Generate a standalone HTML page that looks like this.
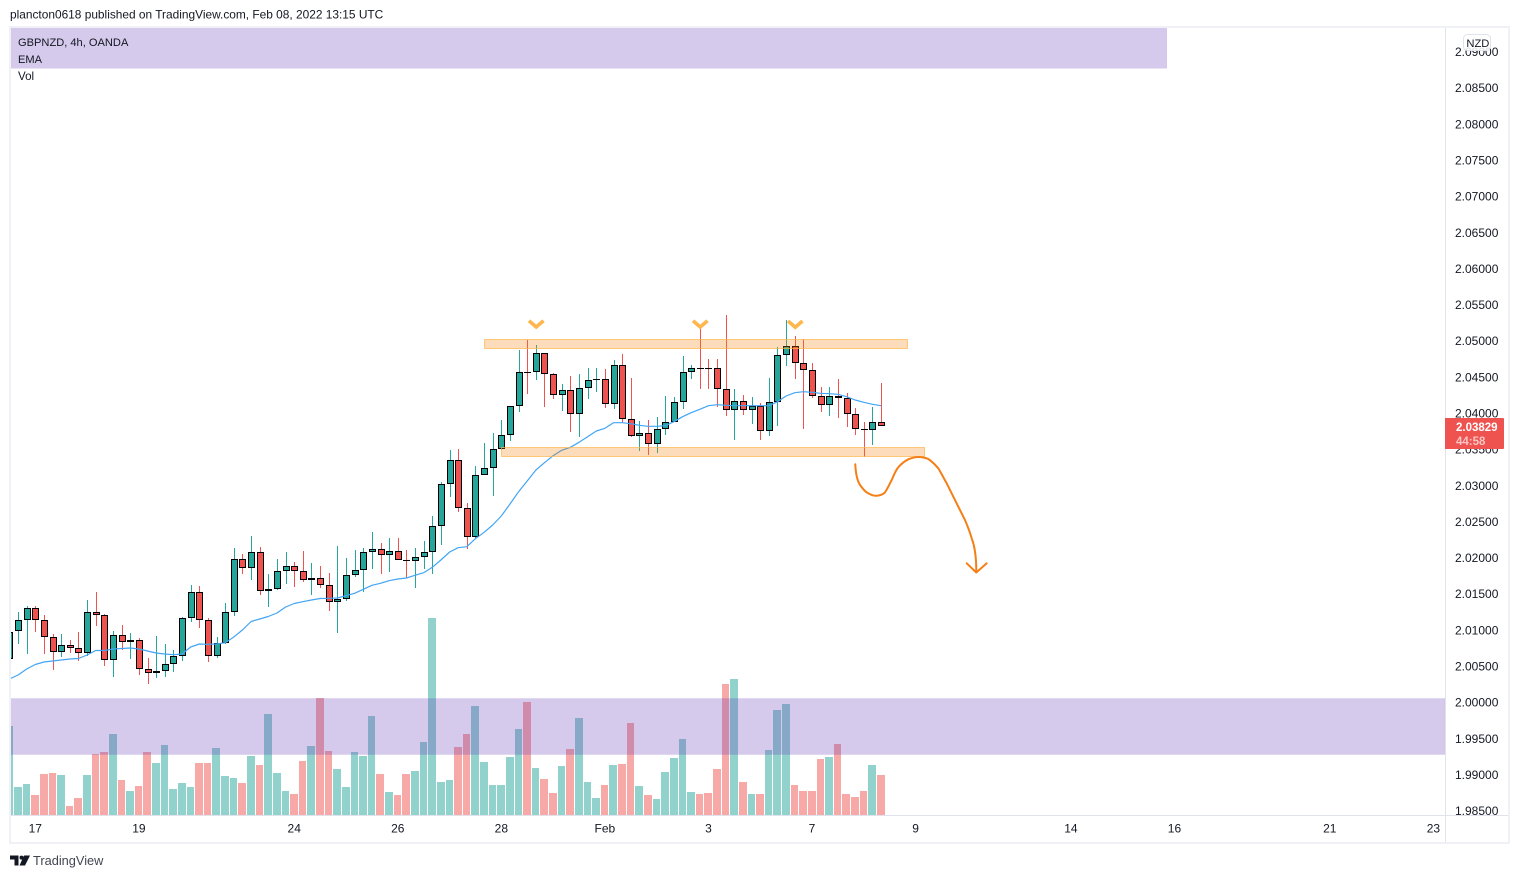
<!DOCTYPE html>
<html lang="en">
<head>
<meta charset="utf-8">
<title>GBPNZD 4h chart</title>
<style>
html,body{margin:0;padding:0;background:#fff;width:1519px;height:878px;overflow:hidden}
svg{display:block;font-family:"Liberation Sans",sans-serif}
text{fill:#131722;font-size:12px}
</style>
</head>
<body>
<svg id="chart" width="1519" height="878" viewBox="0 0 1519 878" xmlns="http://www.w3.org/2000/svg">
  <defs><clipPath id="plot-clip"><rect x="10" y="27" width="1435" height="788"/></clipPath></defs>
  <text x="10" y="18.5" style="font-size:11.9px">plancton0618 published on TradingView.com, Feb 08, 2022 13:15 UTC</text>
  <g id="volume-layer" clip-path="url(#plot-clip)"></g>
  <g id="candle-layer" clip-path="url(#plot-clip)"></g>
  <path id="ema-line" fill="none" stroke="#42a5f5" stroke-width="1.2" stroke-linejoin="round" clip-path="url(#plot-clip)"/>
  <rect x="10" y="698.5" width="1435" height="56" fill="rgba(103,58,183,0.27)" stroke="rgba(103,58,183,0.08)" stroke-width="1"/>
  <rect x="11" y="27.5" width="1156" height="41" fill="rgba(103,58,183,0.27)"/>
  <text x="18" y="46" style="font-size:11.1px">GBPNZD, 4h, OANDA</text>
  <text x="18" y="63" style="font-size:11.1px">EMA</text>
  <text x="18" y="80" style="font-size:11.6px">Vol</text>
  <rect x="484.5" y="339.5" width="423" height="9" fill="rgba(245,124,0,0.27)" stroke="rgba(255,183,77,0.7)"/>
  <rect x="501.5" y="447.5" width="423" height="9" fill="rgba(245,124,0,0.27)" stroke="rgba(255,183,77,0.7)"/>
  <polyline points="529,320.8 536.2,327 543.5,320.8" fill="none" stroke="#ffb74d" stroke-width="3.6"/>
  <polyline points="693,320.8 700.2,327 707.5,320.8" fill="none" stroke="#ffb74d" stroke-width="3.6"/>
  <polyline points="788,321 795.3,327.2 802.5,321" fill="none" stroke="#ffb74d" stroke-width="3.6"/>
  <path d="M855.3 464.3 C855.6 472 857 480 860 485 C863 489 865 491.5 866.7 492.3 C870 494.5 874 496 876.7 495.7 C880 495.5 883 494.5 885 492.3 C888 488 890 483 891.7 480 C893.5 476 895.5 470.5 898.3 467.3 C901 464 905 461 908.3 459.3 C911.5 458 915 457 918.3 457 C922 457 925.5 457.8 928.3 459 C932 461.5 935 464.5 938.3 468.3 C941 473 944 478.5 946.7 483.3 L958.3 506.7 L965 520 C967.5 526 970 532 971.7 538.3 C973.5 543 974.5 547.5 975 551.7 C976 558 976.3 565 976.3 572" fill="none" stroke="#f57f17" stroke-width="2" stroke-linecap="round"/>
  <polyline points="966.7,563.3 976.3,572.5 986.7,563.3" fill="none" stroke="#f57f17" stroke-width="2" stroke-linecap="round" stroke-linejoin="round"/>
  <line x1="10" y1="815.5" x2="1509" y2="815.5" stroke="#e0e3eb"/>
  <line x1="1445.5" y1="27" x2="1445.5" y2="843" stroke="#e0e3eb"/>
  <g id="price-axis"></g>
  <g id="time-axis"></g>
  <rect x="10" y="27" width="1499" height="816" fill="none" stroke="#eff1f7" stroke-width="2"/>
  <rect x="1463.5" y="34.5" width="27" height="16" rx="4" fill="rgba(255,255,255,0.85)" stroke="#e0e3eb"/>
  <text x="1466.4" y="47" style="font-size:11.2px">NZD</text>
  <path d="M1445 418 H1503 a1 1 0 0 1 1 1 V448 a1 1 0 0 1 -1 1 H1445 Z" fill="#ef5350"/>
  <text id="last-price-label" x="1456" y="431" style="fill:#fff;font-weight:bold;font-size:11.5px">2.03829</text>
  <text x="1456" y="445" style="fill:#fbc4c3;font-weight:bold;font-size:11.5px">44:58</text>
  <g>
    <path d="M10 855.5 H18.5 V865.5 H14.5 V859.5 H10 Z M24 855.5 H30 L25 865.5 H19.5 Z" fill="#131722"/>
    <circle cx="21.5" cy="857.6" r="2" fill="#131722"/>
    <text x="33" y="865" style="font-size:12.8px;fill:#434651">TradingView</text>
  </g>
</svg>
<script>
const opens = [2.00597,2.00984,2.01136,2.01302,2.01136,2.00901,2.00693,2.00790,2.00749,2.00680,
2.01247,2.01205,2.00583,2.00929,2.00832,2.00859,2.00458,2.00403,2.00431,2.00527,
2.00638,2.01164,2.01524,2.01136,2.00638,2.00818,2.01247,2.01980,2.01856,2.02077,
2.01537,2.01565,2.01814,2.01883,2.01814,2.01690,2.01717,2.01620,2.01385,2.01427,
2.01759,2.01828,2.02077,2.02118,2.02035,2.02091,2.01966,2.01952,2.02008,2.02077,
2.02437,2.03018,2.03350,2.02686,2.02284,2.03142,2.03239,2.03502,2.03696,2.04097,
2.04567,2.04567,2.04830,2.04540,2.04249,2.04318,2.03986,2.04346,2.04457,2.04470,
2.04125,2.04664,2.03917,2.03682,2.03723,2.03571,2.03779,2.03875,2.04152,2.04567,
2.04623,2.04623,2.04623,2.04332,2.04042,2.04166,2.04042,2.04097,2.03751,2.04152,
2.04802,2.04927,2.04692,2.04595,2.04235,2.04111,2.04235,2.04208,2.03986,2.03779,
2.03765,2.03875];
const highs = [2.01071,2.01247,2.01334,2.01334,2.01205,2.00942,2.00942,2.00859,2.00974,2.01417,
2.01528,2.01223,2.00984,2.01071,2.00960,2.00891,2.00615,2.00919,2.00808,2.00725,
2.01182,2.01625,2.01611,2.01168,2.00905,2.01375,2.02136,2.02053,2.02302,2.02150,
2.01777,2.01984,2.02081,2.01943,2.02095,2.01929,2.01887,2.01791,2.02164,2.01998,
2.02109,2.02136,2.02358,2.02206,2.02275,2.02275,2.02109,2.02136,2.02233,2.02579,
2.03050,2.03492,2.03506,2.02759,2.03271,2.03589,2.03727,2.03907,2.04101,2.04876,
2.05014,2.04945,2.04834,2.04558,2.04405,2.04516,2.04544,2.04627,2.04627,2.04613,
2.04737,2.04820,2.04488,2.03893,2.03907,2.03949,2.04239,2.04226,2.04793,2.04668,
2.05222,2.04751,2.04751,2.05360,2.04336,2.04253,2.04226,2.04143,2.04488,2.04917,
2.05291,2.05069,2.05028,2.04696,2.04364,2.04364,2.04475,2.04281,2.04073,2.03880,
2.04087,2.04419];
const lows = [2.00559,2.00808,2.00670,2.00974,2.00670,2.00449,2.00628,2.00684,2.00573,2.00642,
2.01057,2.00504,2.00352,2.00725,2.00601,2.00379,2.00255,2.00338,2.00352,2.00421,
2.00573,2.01113,2.01030,2.00559,2.00615,2.00808,2.01196,2.01777,2.01694,2.01486,
2.01320,2.01555,2.01638,2.01597,2.01666,2.01486,2.01583,2.01265,2.00960,2.01403,
2.01735,2.01528,2.01846,2.01777,2.01804,2.01966,2.01721,2.01583,2.01846,2.01777,
2.02178,2.02842,2.02634,2.02123,2.02275,2.03142,2.02856,2.03492,2.03617,2.04018,
2.04267,2.04461,2.04087,2.04198,2.04032,2.03741,2.03672,2.04198,2.04295,2.04073,
2.04059,2.03866,2.03672,2.03478,2.03423,2.03451,2.03700,2.03875,2.04059,2.04475,
2.04336,2.04336,2.04087,2.03963,2.03631,2.03976,2.03852,2.03631,2.03686,2.03824,
2.04654,2.04475,2.03783,2.04212,2.04018,2.03963,2.03935,2.03810,2.03700,2.03395,
2.03561,2.03824];
const closes = [2.00978,2.01136,2.01302,2.01136,2.00901,2.00693,2.00790,2.00749,2.00680,2.01247,
2.01205,2.00583,2.00929,2.00832,2.00859,2.00458,2.00403,2.00431,2.00527,2.00638,
2.01164,2.01524,2.01136,2.00638,2.00818,2.01247,2.01980,2.01856,2.02077,2.01537,
2.01565,2.01814,2.01883,2.01814,2.01690,2.01717,2.01620,2.01385,2.01427,2.01759,
2.01828,2.02077,2.02118,2.02035,2.02091,2.01966,2.01952,2.02008,2.02077,2.02437,
2.03018,2.03350,2.02686,2.02284,2.03142,2.03239,2.03502,2.03696,2.04097,2.04567,
2.04560,2.04830,2.04540,2.04249,2.04318,2.03986,2.04346,2.04457,2.04470,2.04125,
2.04664,2.03917,2.03682,2.03723,2.03571,2.03779,2.03875,2.04152,2.04567,2.04623,
2.04615,2.04615,2.04332,2.04042,2.04166,2.04042,2.04097,2.03751,2.04152,2.04802,
2.04927,2.04692,2.04595,2.04235,2.04111,2.04235,2.04208,2.03986,2.03779,2.03765,
2.03875,2.03829];
const emaValues = [2.00324,2.00379,2.00462,2.00525,2.00559,2.00573,2.00587,2.00601,2.00608,2.00656,
2.00718,2.00718,2.00739,2.00746,2.00753,2.00739,2.00711,2.00684,2.00670,2.00660,
2.00670,2.00767,2.00808,2.00804,2.00808,2.00826,2.00905,2.01002,2.01120,2.01154,
2.01189,2.01237,2.01320,2.01369,2.01394,2.01417,2.01438,2.01441,2.01445,2.01477,
2.01510,2.01565,2.01620,2.01648,2.01684,2.01708,2.01721,2.01759,2.01795,2.01869,
2.01970,2.02081,2.02141,2.02154,2.02265,2.02354,2.02455,2.02579,2.02745,2.02915,
2.03063,2.03216,2.03317,2.03413,2.03488,2.03530,2.03599,2.03676,2.03755,2.03792,
2.03870,2.03870,2.03856,2.03834,2.03820,2.03820,2.03828,2.03884,2.03953,2.04008,
2.04055,2.04105,2.04119,2.04111,2.04105,2.04105,2.04105,2.04105,2.04105,2.04160,
2.04239,2.04285,2.04299,2.04291,2.04277,2.04271,2.04263,2.04230,2.04184,2.04152,
2.04125,2.04105];
const volumes = [890,280,310,200,410,420,400,90,170,400,
610,630,810,350,240,290,630,520,700,260,
320,280,520,520,670,390,370,320,590,500,
1010,420,240,210,540,690,1170,640,460,280,
630,590,990,410,230,200,410,440,730,1970,
330,350,680,810,1090,530,300,300,580,860,
1130,470,360,220,490,660,970,330,170,300,
500,510,920,290,200,160,430,570,760,230,
210,220,460,1310,1360,330,210,210,650,1050,
1110,300,240,240,560,580,710,210,180,240,
500,400];
const priceTicks = [2.09,2.085,2.08,2.075,2.07,2.065,2.06,2.055,2.05,2.045,2.04,2.035,2.03,2.025,2.02,2.015,2.01,2.005,2.0,1.995,1.99,1.985];
const dateLabels = ["17","19","24","26","28","Feb","3","7","9","14","16","21","23"];
const dateBarIndex = [3,15,33,45,57,69,81,93,105,123,135,153,165];

const NS = "http://www.w3.org/2000/svg";
function xAt(i){ return 9.42 + 8.63 * i; }
function yAt(p){ return 413.3 + (2.04 - p) * 7228; }
function volY(v){ return 815 - v * 0.1; }
function make(tag, parent, attrs){
  const el = document.createElementNS(NS, tag);
  for (const k in attrs) el.setAttribute(k, attrs[k]);
  parent.appendChild(el);
  return el;
}

const volLayer = document.getElementById("volume-layer");
const candleLayer = document.getElementById("candle-layer");
const UP = "#26a69a", DOWN = "#ef5350";

volumes.forEach(function(v, i){
  const left = Math.round(xAt(i) - 4.05);
  const right = Math.round(xAt(i + 1) - 4.05) - 1;
  const top = volY(v);
  const up = closes[i] >= opens[i];
  const bar = make("rect", volLayer, {x:left, y:top, width:right-left, height:815-top, fill: up ? "rgba(38,166,154,0.5)" : "rgba(239,83,80,0.5)"});
  
  
});

opens.forEach(function(o, i){
  const c = closes[i];
  const up = c >= o;
  const col = up ? UP : DOWN;
  const px = Math.round(xAt(i));
  const hy = Math.round(yAt(highs[i]));
  const ly = Math.round(yAt(lows[i]));
  const wick = make("rect", candleLayer, {x:px, y:hy, width:1, height:Math.max(1, ly-hy), fill:col});
  
  
  const top = Math.round(yAt(Math.max(o, c)));
  const bot = Math.round(yAt(Math.min(o, c)));
  const h = bot - top;
  if (h < 2) {
    const doji = make("rect", candleLayer, {x:px-3, y:top, width:7, height:Math.max(1, h), fill:"#000"});
    
    
  } else {
    const body = make("rect", candleLayer, {x:px-2.5, y:top+0.5, width:6, height:h-1, fill:col, stroke:"#000", "stroke-width":1});
    
    
  }
});

document.getElementById("ema-line").setAttribute("d", emaValues.map(function(v, i){
  return (i ? "L" : "M") + xAt(i).toFixed(1) + " " + yAt(v).toFixed(1);
}).join(" "));

const priceAxis = document.getElementById("price-axis");
priceTicks.forEach(function(p){
  const t = make("text", priceAxis, {x:1455, y:yAt(p)+4.2});
  t.textContent = p.toFixed(5);
  
  
});

const timeAxis = document.getElementById("time-axis");
dateLabels.forEach(function(label, i){
  const t = make("text", timeAxis, {x:xAt(dateBarIndex[i]), y:832.5, "text-anchor":"middle"});
  t.textContent = label;
  
  
});
</script>
</body>
</html>
